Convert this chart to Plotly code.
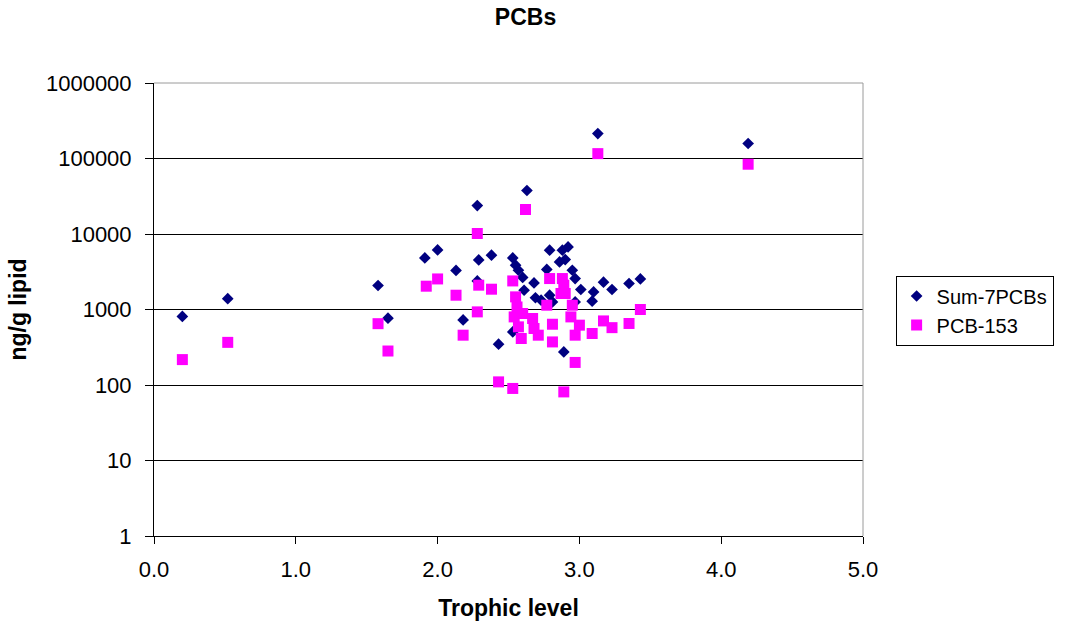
import plotly.graph_objects as go

# Sum-7PCBs (trophic level, ng/g lipid)
sum7_tl = [0.20, 0.52, 1.58, 1.65, 1.91, 2.00, 2.13, 2.18, 2.28, 2.29, 2.28, 2.38, 2.43,
           2.53, 2.53, 2.55, 2.57, 2.60, 2.61, 2.63, 2.68, 2.69, 2.73, 2.79, 2.77, 2.79,
           2.81, 2.86, 2.88, 2.90, 2.92, 2.89, 2.95, 2.97, 2.97, 3.01, 3.09, 3.10, 3.13,
           3.17, 3.23, 3.35, 3.43, 4.19]
sum7_val = [810, 1390, 2080, 768, 4820, 6150, 3290, 728, 23800, 4540, 2390, 5240, 347,
            4820, 505, 3860, 3310, 2660, 1800, 37700, 2250, 1430, 1330, 6100, 3390, 1550,
            1260, 4270, 6100, 4590, 6750, 274, 3310, 2570, 1260, 1840, 1290, 1710, 214000,
            2300, 1840, 2210, 2540, 158000]

# PCB-153
pcb153_tl = [0.20, 0.52, 1.58, 1.65, 1.92, 2.00, 2.13, 2.18, 2.28, 2.29, 2.28, 2.38, 2.43,
             2.53, 2.53, 2.55, 2.56, 2.54, 2.60, 2.57, 2.59, 2.62, 2.67, 2.68, 2.71, 2.79,
             2.77, 2.81, 2.81, 2.88, 2.89, 2.90, 2.87, 2.95, 2.94, 3.00, 2.97, 3.09, 3.17,
             3.23, 3.35, 3.43, 2.97, 2.89, 3.13, 4.19]
pcb153_val = [217, 367, 649, 282, 2035, 2540, 1546, 457, 10160, 2100, 930, 1857, 110,
              2390, 90, 1470, 1080, 798, 885, 589, 413, 21100, 760, 560, 457, 2570,
              1140, 638, 372, 2570, 2100, 1630, 1630, 1140, 798, 620, 457, 481, 706,
              575, 653, 1000, 199, 81, 116000, 84000]

y_ticks = [1, 10, 100, 1000, 10000, 100000, 1000000]
y_ticktext = ["1", "10", "100", "1000", "10000", "100000", "1000000"]
x_ticks = [0, 1, 2, 3, 4, 5]

FONT = "Liberation Sans, Arial, sans-serif"

fig = go.Figure()
fig.add_trace(go.Scatter(
    x=sum7_tl, y=sum7_val, mode="markers", name="Sum-7PCBs",
    marker=dict(symbol="diamond", size=9, color="#000080", line=dict(width=0)),
))
fig.add_trace(go.Scatter(
    x=pcb153_tl, y=pcb153_val, mode="markers", name="PCB-153",
    marker=dict(symbol="square", size=11, color="#FF00FF", line=dict(width=0)),
))

fig.update_layout(
    width=1066, height=628,
    margin=dict(l=154, r=200, t=83, b=92),
    paper_bgcolor="white", plot_bgcolor="white",
    font=dict(family=FONT, size=22, color="black"),
    title=dict(text="<b>PCBs</b>", x=0.524, xref="paper", xanchor="center",
               y=0.973, yref="container", yanchor="middle",
               font=dict(family=FONT, size=23, color="black")),
    xaxis=dict(
        range=[0, 5], tickvals=x_ticks, tickformat=".1f",
        showgrid=False, zeroline=False,
        showline=True, linecolor="black", linewidth=1,
        ticks="outside", ticklen=7, tickcolor="black",
        ticklabelstandoff=7,
        tickfont=dict(family=FONT, size=22, color="black"),
        title=dict(text="<b>Trophic level</b>", standoff=18,
                   font=dict(family=FONT, size=23, color="black")),
    ),
    yaxis=dict(
        type="log", range=[0, 6], tickvals=y_ticks, ticktext=y_ticktext,
        showgrid=True, gridcolor="black", gridwidth=1, zeroline=False,
        showline=True, linecolor="black", linewidth=1,
        ticks="outside", ticklen=8, tickcolor="black",
        ticklabelstandoff=9,
        tickfont=dict(family=FONT, size=22, color="black"),
        title=dict(text="<b>ng/g lipid</b>", standoff=12,
                   font=dict(family=FONT, size=23, color="black")),
    ),
    legend=dict(
        x=1.046, xanchor="left", y=0.575, yanchor="top",
        bgcolor="white", bordercolor="black", borderwidth=1,
        font=dict(family=FONT, size=20, color="black"),
        tracegroupgap=0,
    ),
    shapes=[
        dict(type="line", xref="paper", yref="paper", x0=0, x1=1, y0=1, y1=1,
             line=dict(color="#9a9a9a", width=1), layer="above"),
        dict(type="line", xref="paper", yref="paper", x0=1, x1=1, y0=0, y1=1,
             line=dict(color="#9a9a9a", width=1), layer="above"),
    ],
)

fig.write_html("out.html")
